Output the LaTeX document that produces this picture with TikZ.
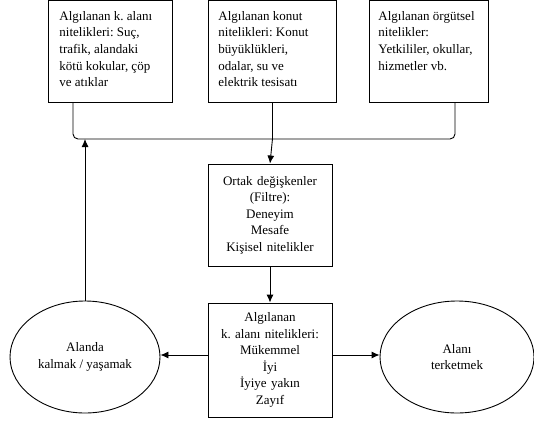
\documentclass[tikz,border=0pt]{standalone}
\usepackage{fontspec}
\setmainfont{Liberation Serif}
\usetikzlibrary{arrows.meta,calc,shapes.geometric}
\frenchspacing
% fixed-height, top-aligned text block for the upper boxes
\newcommand{\toptext}[2]{\parbox[c][85pt][t]{#1}{\begin{tabular}[t]{@{}l@{}}#2\end{tabular}}}
\begin{document}
\begin{tikzpicture}[x=1pt,y=-1pt,
  every node/.style={font=\fontsize{13}{16.5}\selectfont},
  topbox/.style={draw, line width=0.9pt, anchor=north west, inner xsep=10pt, inner ysep=8pt},
  midbox/.style={draw, line width=0.9pt, align=center, text width=122pt, inner sep=0pt},
  oval/.style={draw, line width=0.9pt, ellipse, inner sep=0pt, align=center},
  link/.style={line width=0.9pt},
  arr/.style={line width=0.9pt, -{Latex[length=8pt,width=7pt]}}]
\useasboundingbox (0,0) rectangle (534,420);
% three perceived-quality boxes
\node[topbox, inner xsep=11pt] (b1) at (48,0.5) {\toptext{102pt}{Algılanan k. alanı\\nitelikleri: Suç,\\trafik, alandaki\\kötü kokular, çöp\\ve atıklar}};
\node[topbox] (b2) at (208,0.5) {\toptext{108pt}{Algılanan konut\\nitelikleri: Konut\\büyüklükleri,\\odalar, su ve\\elektrik tesisatı}};
\node[topbox, inner xsep=9pt] (b3) at (369,0.5) {\toptext{101pt}{Algılanan örgütsel\\nitelikler:\\Yetkililer, okullar,\\hizmetler vb.}};
% filter box
\node[midbox, minimum width=124pt, minimum height=102pt] (f) at (270,215) {Ortak değişkenler\\(Filtre):\\Deneyim\\Mesafe\\Kişisel nitelikler};
% rating box
\node[midbox, minimum width=124pt, minimum height=114pt] (r) at (270,360) {Algılanan\\k. alanı nitelikleri:\\Mükemmel\\İyi\\İyiye yakın\\Zayıf};
% outcomes
\node[oval, minimum width=150pt, minimum height=112pt] (stay) at (85,357) {Alanda\\kalmak / yaşamak};
\node[oval, minimum width=154pt, minimum height=112pt] (leave) at (457,357) {Alanı\\terketmek};
% bracket joining the three boxes
\coordinate (j1) at (73,139);
\coordinate (j3) at (455,139);
\coordinate (jm) at (b2.south |- j1);
\draw[link, rounded corners=5pt] (b1.south -| j1) -- (j1) -- (j3) -- (b3.south -| j3);
\draw[link] (b2.south) -- (jm);
% arrows
\draw[arr] (jm) -- (f.north);
\draw[arr] (f.south) -- (r.north);
\draw[arr] (r.west |- 0,355) -- (stay.east |- 0,355);
\draw[arr] (r.east |- 0,355) -- (leave.west |- 0,355);
\draw[arr] (stay.north) -- (stay.north |- j1);
\end{tikzpicture}
\end{document}
